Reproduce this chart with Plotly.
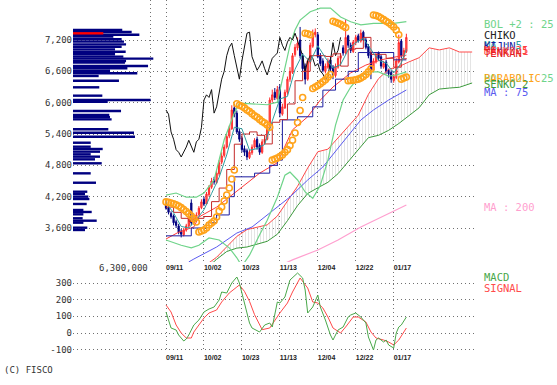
import plotly.graph_objects as go

# ---------------- data ----------------
tick_idx = [0, 15, 30, 45, 60, 75, 90]
tick_labels = ["09/11", "10/02", "10/23", "11/13", "12/04", "12/22", "01/17"]
price_ticks = [3600, 4200, 4800, 5400, 6000, 6600, 7200]
price_tick_text = ["3,600", "4,200", "4,800", "5,400", "6,000", "6,600", "7,200"]
macd_ticks = [-100, 0, 100, 200, 300]
macd_tick_text = ["-100", "0", "100", "200", "300"]

opens = [4060, 3990, 3880, 3830, 3720, 3640, 3540, 3470, 3560, 3640,
         4080, 3700, 3760, 3860, 3990, 4150, 4060, 4240, 4380, 4530,
         4470, 4640, 4860, 4990, 5150, 5360, 5500, 5900, 5800, 5450,
         5320, 5120, 5080, 4950, 5040, 5150, 5300, 5180, 5050, 5250,
         5300, 5520, 6050, 6200, 6080, 6300, 5780, 5900, 6200, 6450,
         6580, 6920, 7050, 7200, 6900, 6700, 6450, 6780, 7080, 7300,
         7300, 6900, 6800, 6600, 6680, 6820, 6680, 6520, 6680, 6850,
         7050, 6950, 7280, 7100, 6980, 7150, 7280, 7180, 7350, 7200,
         7080, 6950, 6620, 6780, 6950, 6880, 6680, 6780, 6620, 6580,
         6420, 6480, 6780, 7180, 6880, 6980]
highs = [4150, 4030, 3920, 3860, 3760, 3680, 3580, 3600, 3680, 3860,
         4150, 3820, 3900, 4020, 4150, 4200, 4290, 4420, 4560, 4580,
         4700, 4900, 5050, 5200, 5400, 5560, 5950, 5980, 5850, 5500,
         5350, 5180, 5120, 5100, 5200, 5320, 5350, 5220, 5300, 5380,
         5560, 6100, 6250, 6280, 6320, 6350, 5980, 6250, 6500, 6680,
         6950, 7120, 7250, 7450, 6950, 6750, 6850, 7150, 7400, 7420,
         7350, 6950, 6850, 6750, 6850, 6880, 6720, 6750, 6900, 6950,
         7100, 7600, 7300, 7150, 7200, 7300, 7320, 7400, 7380, 7250,
         7120, 6980, 6850, 6950, 6980, 6920, 6800, 6820, 6650, 6620,
         6550, 6850, 7300, 7220, 7050, 7320]
lows = [3950, 3860, 3780, 3650, 3600, 3480, 3420, 3440, 3530, 3600,
        3650, 3660, 3730, 3830, 3960, 4020, 4040, 4200, 4350, 4430,
        4440, 4600, 4820, 4950, 5120, 5320, 5480, 5720, 5400, 5250,
        5050, 4980, 4900, 4920, 5000, 5120, 5100, 5000, 5020, 5200,
        5280, 5480, 6000, 6050, 6050, 5720, 5750, 5880, 6150, 6400,
        6550, 6880, 7000, 6850, 6600, 6350, 6420, 6750, 7050, 7250,
        6850, 6700, 6580, 6560, 6650, 6600, 6450, 6480, 6650, 6820,
        6900, 6920, 7050, 6950, 6950, 7100, 7150, 7150, 7180, 7020,
        6850, 6450, 6580, 6750, 6800, 6650, 6650, 6550, 6480, 6380,
        6380, 6450, 6750, 6850, 6850, 6950]
closes = [3980, 3900, 3820, 3700, 3650, 3520, 3480, 3560, 3640, 3820,
          3700, 3780, 3850, 3980, 4100, 4060, 4250, 4380, 4500, 4480,
          4650, 4850, 4980, 5150, 5350, 5500, 5860, 5780, 5440, 5300,
          5100, 5050, 4960, 5050, 5150, 5280, 5150, 5050, 5250, 5300,
          5520, 6050, 6150, 6100, 6250, 5800, 5920, 6200, 6450, 6600,
          6900, 7060, 7140, 6900, 6650, 6450, 6800, 7100, 7330, 7350,
          6880, 6750, 6620, 6700, 6800, 6650, 6530, 6700, 6850, 6900,
          6950, 7250, 7100, 7000, 7160, 7250, 7200, 7330, 7200, 7060,
          6900, 6600, 6800, 6900, 6850, 6700, 6750, 6600, 6550, 6450,
          6500, 6800, 7150, 6900, 7000, 7250]
day_index = list(range(len(closes)))
chiko_lag = 26

ma5_idx = [0, 3, 6, 9, 12, 15, 18, 21, 24, 27, 30, 33, 36, 39, 42, 45, 48, 51,
           54, 57, 60, 63, 66, 69, 72, 75, 78, 81, 84, 87, 90, 93, 95]
ma5 = [4080, 3890, 3630, 3600, 3760, 3950, 4260, 4570, 5000, 5530, 5500, 5090,
       5120, 5200, 5650, 6070, 6120, 6640, 6930, 6780, 7090, 6860, 6660, 6730,
       7010, 7150, 7230, 7020, 6810, 6760, 6570, 6760, 7020]

ma25_idx = [0, 5, 11, 13, 20, 25, 30, 37, 44, 50, 56, 61, 66, 73, 79, 85, 90, 95]
ma25 = [3390, 3520, 3620, 3810, 4000, 4190, 4390, 4650, 4850, 5480, 5730, 6050,
        6300, 6570, 6720, 6820, 6870, 6910]

ma75_idx = [9, 11, 20, 28, 34, 41, 49, 56, 62, 69, 77, 82, 88, 95]
ma75 = [2950, 3006, 3236, 3504, 3619, 3887, 4194, 4519, 4768, 5189, 5668, 5860,
        6051, 6243]

ma200_idx = [45, 50, 60, 68, 77, 95]
ma200 = [2880, 2990, 3180, 3370, 3620, 4040]

tenkan_idx = [0, 3, 6, 9, 12, 15, 18, 21, 24, 27, 30, 33, 36, 39, 42, 45, 48, 51,
              54, 57, 60, 63, 66, 69, 72, 75, 78, 81, 84, 87, 90, 93, 95]
tenkan = [4000, 3900, 3785, 3725, 3785, 3820, 4105, 4365, 4720, 5205, 5400, 5440,
          5375, 5210, 5625, 5675, 5975, 6420, 6600, 6900, 6900, 6885, 6935, 6700,
          7025, 7040, 7250, 6925, 6925, 6850, 6680, 6840, 6850]

kijun_idx = [0, 10, 16, 20, 25, 27, 35, 41, 44, 46, 52, 58, 62, 67, 72, 76, 90, 95]
kijun = [3450, 3600, 3700, 3850, 4200, 4580, 4650, 4800, 4900, 5670, 5730, 5920,
         6240, 6450, 6600, 6960, 6820, 6820]

senko_idx = [16, 20, 24, 28, 32, 36, 40, 44, 48, 52, 56, 60, 64, 68, 72, 76, 80,
             84, 88, 92, 96, 100, 104, 108, 112, 116, 121]
senko1 = [2900, 3040, 3240, 3440, 3570, 3610, 3660, 3830, 4120, 4400, 4750, 5060,
          5110, 5330, 5540, 5760, 6160, 6460, 6640, 6690, 6780, 6860, 7050, 7010,
          7050, 6970, 6970]
senko2 = [2830, 3000, 3150, 3215, 3236, 3295, 3345, 3480, 3740, 4030, 4260, 4370,
          4475, 4640, 4870, 5100, 5330, 5375, 5470, 5600, 5750, 5900, 6150, 6260,
          6280, 6295, 6377]

bol_up_idx = [0, 4, 8, 12, 15, 19, 23, 27, 29, 35, 40, 44, 47, 49, 51, 53, 57, 61,
              65, 69, 73, 77, 82, 90, 95]
bol_up = [4230, 4270, 4190, 4190, 4270, 4520, 5290, 5800, 5990, 5980, 5960, 6010,
          6630, 7100, 7390, 7580, 7740, 7810, 7810, 7640, 7550, 7490, 7520, 7520,
          7550]
bol_lo_idx = [0, 6, 10, 13, 17, 21, 25, 28, 30, 33, 37, 40, 44, 47, 49, 52, 55, 58,
              61, 64, 67, 70, 73, 76, 80, 84, 88, 91, 95]
bol_lo = [3370, 3270, 3220, 3270, 3410, 3370, 3220, 3030, 2870, 3080, 3470, 3750,
          4190, 4610, 4670, 4520, 4290, 4170, 4420, 4900, 5570, 6050, 6300, 6470,
          6590, 6590, 6510, 6530, 6590]

psar = [4100, 4090, 4080, 4065, 4045, 4020, 3990, 3955, 3915, 3875, 3830, 3775, 3715,
        3523, 3542, 3562, 3600, 3657, 3696, 3734, 3811, 3926, 4002, 4117, 4232, 4366,
        4538, 4711,
        5980, 5950, 5930, 5900, 5860, 5830, 5790, 5750, 5720, 5680, 5640, 5610, 5570,
        5530,
        4900, 4920, 4940, 4970, 5000, 5050, 5100, 5180, 5280, 5420, 5620, 5850, 6100,
        7330, 7320, 7300,
        6270, 6300, 6330, 6360, 6400, 6440, 6490, 6540,
        7560, 7540, 7520, 7500, 7470, 7440,
        6420, 6425, 6430, 6440, 6450, 6470, 6500, 6540, 6590, 6650,
        7680, 7670, 7650, 7620, 7590, 7560, 7530, 7490, 7450, 7390, 7300,
        6450, 6470, 6490]

vp_price = [7391, 7353, 7302, 7264, 7213, 7168, 7117, 7072, 7021, 6976, 6926, 6881,
            6843, 6798, 6766, 6702, 6658, 6612, 6562, 6511, 6421, 6294, 6134, 6051,
            6019, 5840, 5764, 5720, 5681, 5490, 5425, 5348, 5233, 5157, 5113, 5062,
            5011, 4966, 4915, 4839, 4647, 4467, 4295, 4251, 4200, 4155, 4060, 3945,
            3907, 3862, 3786, 3740, 3702, 3606, 3562]
vp_volume = [4030000, 4800000, 5430000, 3300000, 3980000, 4170000, 4340000, 3980000,
             3440000, 4310000, 3440000, 4120000, 6570000, 4340000, 4250000, 6140000,
             4450000, 3030000, 5260000, 2100000, 3760000, 2150000, 2400000, 6350000,
             2840000, 3930000, 2970000, 3030000, 3160000, 2890000, 4990000, 5070000,
             1450000, 1450000, 2430000, 2210000, 1450000, 2210000, 1800000, 2350000,
             1450000, 1880000, 1170000, 980000, 1250000, 1340000, 1120000, 850000,
             1530000, 850000, 790000, 1940000, 850000, 1170000, 980000]
vp_current_price = [7328]
vp_current_volume = [2480000]
vp_scale_max = 6300000

macd_idx = [0, 1, 2, 4, 5, 7, 8, 9, 11, 13, 15, 17, 19, 21, 22, 24, 26, 28, 29, 31,
            33, 34, 37, 39, 41, 42, 44, 45, 47, 49, 52, 54, 55, 56, 58, 60, 61, 63,
            65, 66, 68, 70, 72, 73, 75, 77, 79, 80, 82, 83, 84, 86, 87, 88, 90, 91,
            92, 93, 95]
macd = [126, 78, 30, 18, -12, -48, -36, -12, 48, 78, 126, 144, 156, 198, 246, 240,
        300, 336, 300, 180, 60, 30, 6, 48, 60, 36, 186, 180, 216, 318, 360, 330,
        258, 120, 156, 228, 156, 78, -12, -42, 18, 36, 96, 108, 120, 96, 60, -24,
        -102, -42, -30, -54, -42, -72, -90, 0, 36, 48, 96]
signal_idx = [0, 2, 4, 6, 8, 10, 11, 13, 15, 17, 20, 22, 25, 28, 29, 31, 33, 35,
              38, 41, 43, 45, 48, 50, 53, 56, 58, 60, 62, 64, 66, 69, 71, 74, 76,
              79, 81, 83, 86, 88, 90, 92, 95]
signal = [168, 126, 48, 0, -30, -30, 6, 48, 90, 120, 138, 186, 240, 276, 288, 250,
          190, 110, 20, 30, 78, 120, 180, 246, 330, 270, 186, 180, 150, 96, 30, 0,
          36, 96, 96, 66, 6, -30, -42, -54, -72, -42, 30]

# ---------------- colours ----------------
C_BOL = "#6fd48a"
C_MA5 = "#2f9ea0"
C_MA25 = "#ff3b3b"
C_MA75 = "#5a5af0"
C_MA200 = "#ff9fcf"
C_TENKAN = "#c42a2a"
C_KIJUN = "#1c1ca0"
C_SENKO1 = "#ff4a4a"
C_SENKO2 = "#3c9a3c"
C_PSAR = "#ffa31a"
C_MACD = "#4aa84a"
C_SIGNAL = "#ff4a4a"
GRID = "#707070"

# ---------------- geometry ----------------
W, H = 557, 385
px_left, px_right = 73, 475
x_dom = [px_left / W, px_right / W]
main_dom = [(H - 262) / H, 1.0]
macd_dom = [(H - 352) / H, (H - 272) / H]
x_range = [-36.76, 122.13]
vol_axis_max = 32.89e6

fig = go.Figure()

# volume profile
fig.add_trace(go.Bar(x=vp_volume, y=vp_price, orientation="h", xaxis="x2", yaxis="y",
                     width=46, marker=dict(color="#000080", line=dict(width=0)),
                     hoverinfo="skip"))
fig.add_trace(go.Bar(x=vp_current_volume, y=vp_current_price, orientation="h",
                     xaxis="x2", yaxis="y", width=46,
                     marker=dict(color="#ff0000", line=dict(width=0)), hoverinfo="skip"))

# ichimoku cloud
fig.add_trace(go.Scatter(x=senko_idx, y=senko2, mode="lines",
                         line=dict(color=C_SENKO2, width=1), xaxis="x", yaxis="y"))
fig.add_trace(go.Scatter(x=senko_idx, y=senko1, mode="lines",
                         line=dict(color=C_SENKO1, width=1), fill="tonexty",
                         fillcolor="rgba(0,0,0,0)",
                         fillpattern=dict(shape="|", fgcolor="#b8b8b8",
                                          bgcolor="rgba(255,255,255,0)", size=3,
                                          solidity=0.25),
                         xaxis="x", yaxis="y"))

# long MAs
fig.add_trace(go.Scatter(x=ma200_idx, y=ma200, mode="lines",
                         line=dict(color=C_MA200, width=1.2), xaxis="x", yaxis="y"))
fig.add_trace(go.Scatter(x=ma75_idx, y=ma75, mode="lines",
                         line=dict(color=C_MA75, width=1), xaxis="x", yaxis="y"))

# bollinger
fig.add_trace(go.Scatter(x=bol_up_idx, y=bol_up, mode="lines",
                         line=dict(color=C_BOL, width=1.2), xaxis="x", yaxis="y"))
fig.add_trace(go.Scatter(x=bol_lo_idx, y=bol_lo, mode="lines",
                         line=dict(color=C_BOL, width=1.2), xaxis="x", yaxis="y"))

# chiko span (close plotted 26 days back)
fig.add_trace(go.Scatter(x=day_index[:len(closes) - chiko_lag], y=closes[chiko_lag:],
                         mode="lines", line=dict(color="#111111", width=1),
                         xaxis="x", yaxis="y"))

# candles
fig.add_trace(go.Candlestick(x=day_index, open=opens, high=highs, low=lows, close=closes,
                             increasing=dict(line=dict(color="#ff2a2a", width=1),
                                             fillcolor="#ff6a6a"),
                             decreasing=dict(line=dict(color="#000080", width=1),
                                             fillcolor="#000080"),
                             whiskerwidth=0, xaxis="x", yaxis="y"))

# short lines
fig.add_trace(go.Scatter(x=ma25_idx, y=ma25, mode="lines",
                         line=dict(color=C_MA25, width=1), xaxis="x", yaxis="y"))
fig.add_trace(go.Scatter(x=kijun_idx, y=kijun, mode="lines",
                         line=dict(color=C_KIJUN, width=1, shape="hv"), xaxis="x", yaxis="y"))
fig.add_trace(go.Scatter(x=tenkan_idx, y=tenkan, mode="lines",
                         line=dict(color=C_TENKAN, width=1, shape="hv"), xaxis="x", yaxis="y"))
fig.add_trace(go.Scatter(x=ma5_idx, y=ma5, mode="lines",
                         line=dict(color=C_MA5, width=1), xaxis="x", yaxis="y"))

# parabolic
fig.add_trace(go.Scatter(x=day_index, y=psar, mode="markers",
                         marker=dict(symbol="circle-open", size=6, color=C_PSAR,
                                     line=dict(width=1.6, color=C_PSAR)),
                         xaxis="x", yaxis="y"))

# MACD panel
fig.add_trace(go.Scatter(x=signal_idx, y=signal, mode="lines",
                         line=dict(color=C_SIGNAL, width=1), xaxis="x3", yaxis="y3"))
fig.add_trace(go.Scatter(x=macd_idx, y=macd, mode="lines",
                         line=dict(color=C_MACD, width=1), xaxis="x3", yaxis="y3"))

mono = "DejaVu Sans Mono"
axis_common = dict(showgrid=True, gridcolor=GRID, griddash="1px,3px", gridwidth=1,
                   zeroline=False, showline=False, ticks="", automargin=False)
date_font = dict(family="Liberation Sans", size=7, color="#222", weight="bold")

fig.update_layout(
    width=W, height=H, margin=dict(l=0, r=0, t=0, b=0, autoexpand=False),
    paper_bgcolor="white", plot_bgcolor="white", showlegend=False,
    barmode="overlay", hovermode=False,
    xaxis=dict(domain=x_dom, range=x_range, tickvals=tick_idx, ticktext=tick_labels,
               ticklabelposition="outside right", tickfont=date_font, anchor="y",
               rangeslider=dict(visible=False), **axis_common),
    xaxis2=dict(domain=x_dom, range=[0, vol_axis_max], overlaying="x", anchor="y",
                tickvals=[vp_scale_max], showticklabels=False, **axis_common),
    yaxis=dict(domain=main_dom, range=[2949, 7966], tickvals=price_ticks,
               ticktext=price_tick_text, anchor="x",
               tickfont=dict(family=mono, size=9, color="#333"), **axis_common),
    xaxis3=dict(domain=x_dom, range=x_range, tickvals=tick_idx, ticktext=tick_labels,
                ticklabelposition="outside right", tickfont=date_font, anchor="y3",
                **axis_common),
    yaxis3=dict(domain=macd_dom, range=[-114, 366], tickvals=macd_ticks,
                ticktext=macd_tick_text, anchor="x3",
                tickfont=dict(family=mono, size=9, color="#333"), **axis_common),
)

annotations = [
    dict(x=vp_scale_max, xref="x2", y=(H - 268) / H, yref="paper", text="6,300,000",
         xanchor="right", yanchor="middle", showarrow=False,
         font=dict(family=mono, size=9, color="#333")),
    dict(x=2 / W, xref="paper", y=(H - 370) / H, yref="paper", text="(C) FISCO",
         xanchor="left", yanchor="middle", showarrow=False,
         font=dict(family=mono, size=9, color="#333")),
]
legend_items = [
    ("BOL +2 : 25", C_BOL, 24),
    ("CHIKO", "#222222", 35),
    ("MA : 5", C_MA5, 45),
    ("KIJUN", C_KIJUN, 46),
    ("MA : 25", C_MA25, 50),
    ("SENKO 1", C_SENKO1, 51),
    ("TENKAN", "#e02020", 53),
    ("BOL -2 : 25", C_BOL, 78),
    ("PARABOLIC", C_PSAR, 78),
    ("SENKO 2", C_SENKO2, 84),
    ("MA : 75", C_MA75, 92),
    ("MA : 200", C_MA200, 207),
    ("MACD", C_MACD, 277),
    ("SIGNAL", C_SIGNAL, 288),
]
for text, color, ypx in legend_items:
    annotations.append(dict(x=482 / W, xref="paper", y=(H - ypx) / H, yref="paper",
                            text=text, xanchor="left", yanchor="middle", showarrow=False,
                            font=dict(family=mono, size=10.5, color=color)))
fig.update_layout(annotations=annotations)

fig.write_html("out.html", config={"displayModeBar": False, "staticPlot": True},
               post_script="document.body.style.margin='0';document.body.style.overflow='hidden';")
